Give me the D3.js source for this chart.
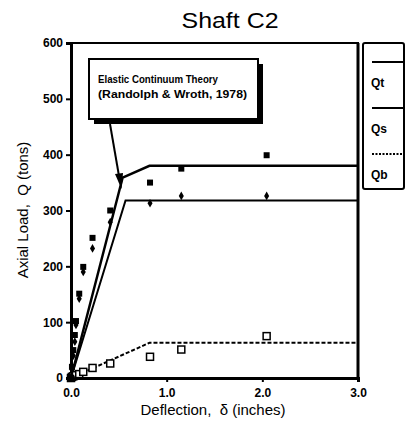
<!DOCTYPE html>
<html><head><meta charset="utf-8">
<script src="https://cdn.jsdelivr.net/npm/d3@7"></script>
<style>body{margin:0;background:#fff}svg{display:block}text{font-family:"Liberation Sans",Arial,sans-serif}</style>
</head><body><svg id="c" width="409" height="434"></svg>
<script>
const deflection = [0, 0.01, 0.024, 0.04, 0.052, 0.086, 0.128, 0.225, 0.41, 0.826, 1.153, 2.045];
const qtData = [0, 20, 50, 77, 102, 151, 199, 251, 300, 350, 375, 399];
const qsData = [0, 15, 40, 65, 95, 142, 190, 232, 279, 313, 326, 326];
const qbData = [0, 2, 3, 4, 5, 7, 11, 18, 26, 38, 51, 75];
const qtTheoryX = [0, 0.54, 0.82, 3.0];
const qtTheoryY = [0, 359, 380, 380];
const qsTheoryX = [0, 0.57, 3.0];
const qsTheoryY = [0, 318, 318];
const qbTheoryX = [0, 0.82, 3.0];
const qbTheoryY = [0, 63, 63];
const xTicks = [0, 1, 2, 3];
const yTicks = [0, 100, 200, 300, 400, 500, 600];
const legendLabels = ["Qt", "Qs", "Qb"];

const svg = d3.select("#c");
const L = 71, R = 358, T = 43, B = 378;
const x = d3.scaleLinear().domain([0, 3]).range([L, R]);
const y = d3.scaleLinear().domain([0, 600]).range([B, T]);

// title
svg.append("text").attr("x", 230).attr("y", 28).attr("text-anchor", "middle")
  .attr("font-size", 22).attr("textLength", 97).attr("lengthAdjust", "spacingAndGlyphs").text("Shaft C2");

// frame top & right
svg.append("line").attr("x1", L).attr("x2", R + 1).attr("y1", T).attr("y2", T).attr("stroke", "#000").attr("stroke-width", 2);
svg.append("line").attr("x1", R).attr("x2", R).attr("y1", T).attr("y2", B).attr("stroke", "#000").attr("stroke-width", 3);

// axes
const yAxis = d3.axisLeft(y).tickValues(yTicks).tickFormat(d3.format("d")).tickSize(5).tickPadding(3);
const gy = svg.append("g").attr("transform", `translate(${L},0)`).call(yAxis);
gy.select(".domain").attr("stroke-width", 3);
gy.selectAll(".tick line").attr("stroke-width", 2);
gy.selectAll("text").attr("font-size", 12).attr("font-weight", "bold").attr("font-family", "Liberation Sans, Arial, sans-serif");

const xAxis = d3.axisBottom(x).tickValues(xTicks).tickFormat(d3.format(".1f")).tickSize(4).tickPadding(6);
const gx = svg.append("g").attr("transform", `translate(0,${B})`).call(xAxis);
gx.select(".domain").attr("stroke-width", 3);
gx.selectAll(".tick line").attr("stroke-width", 2);
gx.selectAll("text").attr("font-size", 12).attr("font-weight", "bold").attr("font-family", "Liberation Sans, Arial, sans-serif");

// axis titles
svg.append("text").attr("transform", "translate(28,210) rotate(-90)").attr("text-anchor", "middle")
  .attr("font-size", 15).attr("xml:space", "preserve").text("Axial Load,  Q (tons)");
svg.append("text").attr("x", 213).attr("y", 415).attr("text-anchor", "middle")
  .attr("font-size", 15).attr("xml:space", "preserve").text("Deflection,  δ (inches)");

// theory lines
const line = d3.line().x(d => x(d[0])).y(d => y(d[1]));
svg.append("path").datum(qtTheoryX.map((v, i) => [v, qtTheoryY[i]])).attr("d", line)
  .attr("fill", "none").attr("stroke", "#000").attr("stroke-width", 2.5);
svg.append("path").datum(qsTheoryX.map((v, i) => [v, qsTheoryY[i]])).attr("d", line)
  .attr("fill", "none").attr("stroke", "#000").attr("stroke-width", 2);
svg.append("path").datum(qbTheoryX.map((v, i) => [v, qbTheoryY[i]])).attr("d", line)
  .attr("fill", "none").attr("stroke", "#000").attr("stroke-width", 2).attr("stroke-dasharray", "4,2");

// data markers
const ms = 6;
svg.append("g").selectAll("rect").data(deflection.map((v, i) => [v, qtData[i]])).join("rect")
  .attr("x", d => x(d[0]) - ms / 2).attr("y", d => y(d[1]) - ms / 2).attr("width", ms).attr("height", ms).attr("fill", "#000");
svg.append("g").selectAll("path").data(deflection.map((v, i) => [v, qsData[i]])).join("path")
  .attr("transform", d => `translate(${x(d[0])},${y(d[1])})`)
  .attr("d", d3.symbol(d3.symbolDiamond, 22)).attr("fill", "#000");
svg.append("g").selectAll("rect").data(deflection.map((v, i) => [v, qbData[i]])).join("rect")
  .attr("x", d => x(d[0]) - 3.5).attr("y", d => y(d[1]) - 3.5).attr("width", 7).attr("height", 7)
  .attr("fill", "#fff").attr("stroke", "#000").attr("stroke-width", 1.5);
svg.append("circle").attr("cx", x(0)).attr("cy", y(0)).attr("r", 4).attr("fill", "#000");

// annotation box with shadow
const bx = 89, by = 59, bw = 169, bh = 60;
svg.append("rect").attr("x", bx + 5).attr("y", by + 5).attr("width", bw).attr("height", bh).attr("fill", "#000");
svg.append("rect").attr("x", bx).attr("y", by).attr("width", bw).attr("height", bh).attr("fill", "#fff").attr("stroke", "#000").attr("stroke-width", 2);
svg.append("text").attr("x", 98).attr("y", 83).attr("font-size", 11).attr("font-weight", "bold")
  .attr("textLength", 120).attr("lengthAdjust", "spacingAndGlyphs").text("Elastic Continuum Theory");
svg.append("text").attr("x", 98).attr("y", 98).attr("font-size", 11).attr("font-weight", "bold")
  .attr("textLength", 149).attr("lengthAdjust", "spacingAndGlyphs").text("(Randolph & Wroth, 1978)");

// arrow
svg.append("line").attr("x1", 110).attr("y1", 124).attr("x2", 119).attr("y2", 176)
  .attr("stroke", "#000").attr("stroke-width", 2);
svg.append("path").attr("d", "M115,174L123,173L121.5,189Z").attr("fill", "#000");

// legend
const lg = svg.append("g");
lg.append("rect").attr("x", 363).attr("y", 43).attr("width", 41).attr("height", 146).attr("rx", 2)
  .attr("fill", "#fff").attr("stroke", "#000").attr("stroke-width", 2);
const legY = [62, 108, 154];
legendLabels.forEach((lab, i) => {
  const ln = lg.append("line").attr("x1", 372).attr("x2", 404).attr("y1", legY[i]).attr("y2", legY[i])
    .attr("stroke", "#000").attr("stroke-width", 2);
  if (i === 2) ln.attr("stroke-dasharray", "2,1.5");
  lg.append("text").attr("x", 371).attr("y", legY[i] + 25).attr("font-size", 12).attr("font-weight", "bold").text(lab);
});
</script></body></html>
